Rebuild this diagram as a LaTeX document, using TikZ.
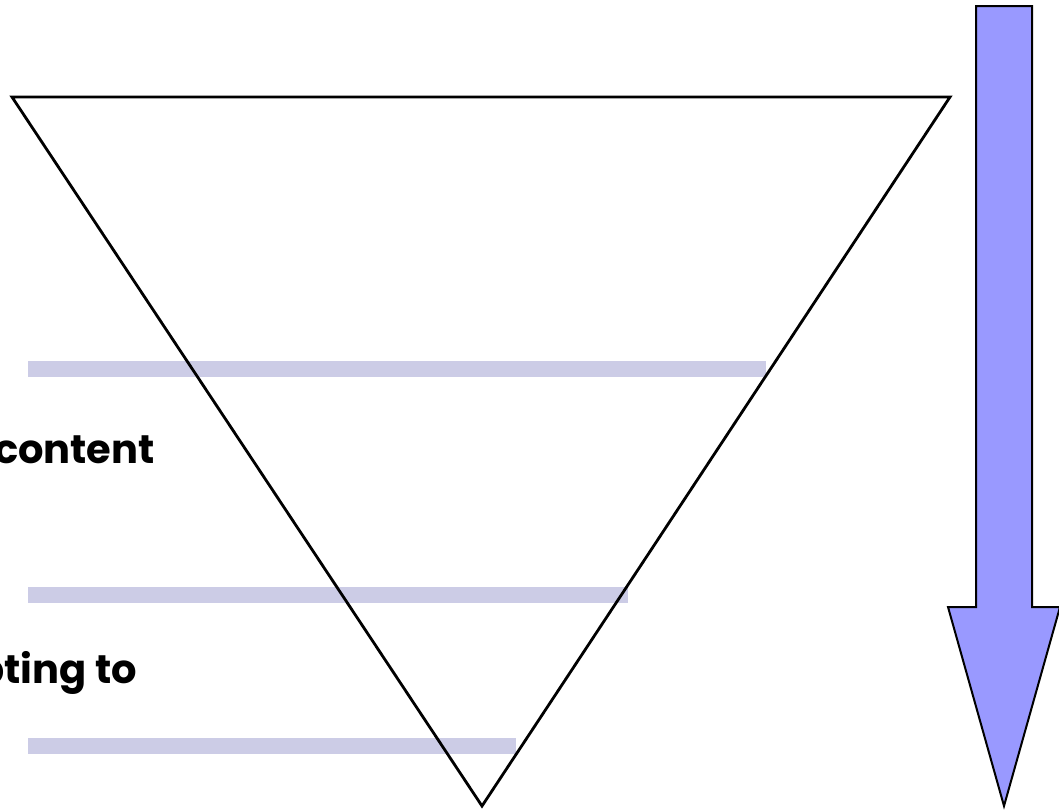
\documentclass[tikz,border=0pt]{standalone}
\usepackage{fontspec}
\setmainfont{Poppins}
\definecolor{bandfill}{RGB}{204,204,230}
\definecolor{flowfill}{RGB}{153,153,255}

\begin{document}
\begin{tikzpicture}[x=1pt,y=-1pt,font=\bfseries\fontsize{40}{48}\selectfont]
\tikzstyle{band}=[fill=bandfill]
\tikzstyle{flow}=[draw,line width=2pt,fill=flowfill,line join=miter]
\tikzstyle{lbl}=[inner sep=0pt]
\useasboundingbox (0,0) rectangle (1059,811);
\clip (0,0) rectangle (1059,811);
% levels
\fill[band] (28,361) rectangle (766,377);
\fill[band] (28,587) rectangle (628,603);
\fill[band] (28,738) rectangle (516,754);
% funnel
\draw[line width=2.8pt,line join=miter] (12,97) -- (950,97) -- (482,806) -- cycle;
% labels
\node[lbl,anchor=base east] (content) at (155,463) {content};
\node[lbl,anchor=base east] (adapting) at (137,683) {pting to};
% direction
\draw[flow] (976,6) -- (1032,6) -- (1032,607) -- (1060,607) -- (1004,806)
  -- (948,607) -- (976,607) -- cycle;
\end{tikzpicture}
\end{document}
